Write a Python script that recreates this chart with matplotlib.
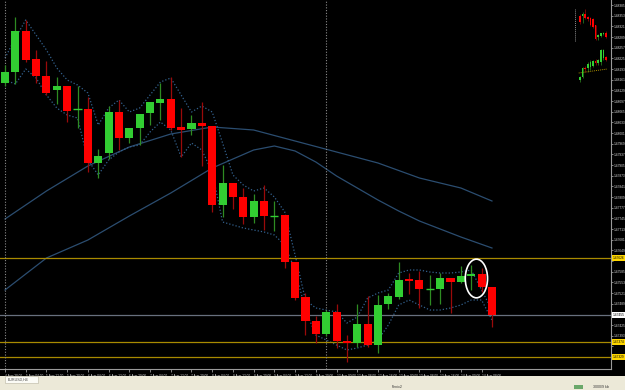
import matplotlib
matplotlib.use("Agg")
import matplotlib.pyplot as plt
import matplotlib.transforms as mtransforms
from matplotlib.patches import Rectangle, Ellipse
import numpy as np

plt.rcParams["font.family"] = ["Liberation Sans", "DejaVu Sans"]

# EURUSD H4 bars (open / close / high / low)
opens = [1.48151, 1.48184, 1.48307, 1.48223, 1.48172, 1.48130, 1.48142, 1.48073, 1.48073, 1.47911,
         1.47941, 1.48064, 1.47986, 1.48016, 1.48061, 1.48091, 1.48103, 1.48019, 1.48013, 1.48031,
         1.48022, 1.47785, 1.47851, 1.47809, 1.47749, 1.47797, 1.47752, 1.47755, 1.47614, 1.47509,
         1.47437, 1.47398, 1.47464, 1.47377, 1.47371, 1.47428, 1.47365, 1.47488, 1.47509, 1.47563,
         1.47560, 1.47533, 1.47533, 1.47566, 1.47554, 1.47572, 1.47578, 1.47539]
closes = [1.48184, 1.48307, 1.48220, 1.48172, 1.48121, 1.48142, 1.48067, 1.48074, 1.47911, 1.47932,
          1.48064, 1.47986, 1.48016, 1.48058, 1.48094, 1.48103, 1.48016, 1.48010, 1.48031, 1.48022,
          1.47785, 1.47851, 1.47809, 1.47749, 1.47797, 1.47752, 1.47753, 1.47614, 1.47506, 1.47437,
          1.47398, 1.47464, 1.47377, 1.47371, 1.47428, 1.47365, 1.47485, 1.47512, 1.47560, 1.47557,
          1.47533, 1.47534, 1.47566, 1.47554, 1.47572, 1.47578, 1.47539, 1.47455]
highs = [1.48205, 1.48349, 1.48340, 1.48250, 1.48217, 1.48169, 1.48142, 1.48142, 1.48109, 1.47953,
         1.48082, 1.48100, 1.48016, 1.48058, 1.48094, 1.48151, 1.48169, 1.48076, 1.48055, 1.48094,
         1.48022, 1.47905, 1.47851, 1.47836, 1.47818, 1.47845, 1.47797, 1.47755, 1.47614, 1.47521,
         1.47452, 1.47470, 1.47488, 1.47395, 1.47488, 1.47512, 1.47515, 1.47521, 1.47614, 1.47581,
         1.47587, 1.47575, 1.47581, 1.47566, 1.47602, 1.47605, 1.47596, 1.47539]
lows = [1.48142, 1.48148, 1.48214, 1.48151, 1.48115, 1.48088, 1.48034, 1.48016, 1.47884, 1.47866,
        1.47923, 1.47950, 1.47971, 1.47965, 1.48025, 1.48040, 1.48010, 1.47929, 1.47995, 1.47902,
        1.47764, 1.47749, 1.47773, 1.47728, 1.47731, 1.47710, 1.47707, 1.47596, 1.47500, 1.47395,
        1.47371, 1.47392, 1.47356, 1.47314, 1.47359, 1.47359, 1.47341, 1.47473, 1.47503, 1.47518,
        1.47476, 1.47485, 1.47488, 1.47461, 1.47551, 1.47530, 1.47524, 1.47419]

# dotted envelope lines
env_upper = [1.48226, 1.48286, 1.48340, 1.48295, 1.48250, 1.48196, 1.48160, 1.48145, 1.48121, 1.48025,
             1.48076, 1.48100, 1.48064, 1.48076, 1.48115, 1.48154, 1.48166, 1.48115, 1.48064, 1.48082,
             1.48064, 1.47971, 1.47875, 1.47845, 1.47827, 1.47836, 1.47809, 1.47764, 1.47635, 1.47500,
             1.47476, 1.47470, 1.47464, 1.47431, 1.47449, 1.47506, 1.47521, 1.47530, 1.47581, 1.47590,
             1.47590, 1.47584, 1.47581, 1.47581, 1.47584, 1.47590, 1.47530, 1.47470]
env_lower = [1.48160, 1.48148, 1.48193, 1.48166, 1.48115, 1.48076, 1.48055, 1.48046, 1.47920, 1.47875,
             1.47920, 1.47944, 1.47959, 1.47965, 1.48004, 1.48034, 1.48010, 1.47929, 1.47971, 1.47950,
             1.47884, 1.47734, 1.47725, 1.47716, 1.47710, 1.47704, 1.47695, 1.47665, 1.47590, 1.47470,
             1.47395, 1.47380, 1.47365, 1.47350, 1.47356, 1.47365, 1.47380, 1.47425, 1.47485, 1.47500,
             1.47485, 1.47470, 1.47470, 1.47476, 1.47485, 1.47500, 1.47500, 1.47440]

# moving averages (read at some bars)
ma_a_idx = [0, 4, 8, 12, 16, 20, 24, 28, 32, 36, 40, 44, 47]
ma_a = [1.47743, 1.47827, 1.47902, 1.47959, 1.47998, 1.48019, 1.48010, 1.47977, 1.47944, 1.47911,
        1.47866, 1.47836, 1.47797]
ma_b_idx = [0, 4, 8, 12, 16, 20, 24, 26, 28, 30, 32, 34, 36, 38, 40, 42, 44, 47]
ma_b = [1.47530, 1.47626, 1.47680, 1.47752, 1.47821, 1.47896, 1.47950, 1.47962, 1.47947, 1.47914,
        1.47872, 1.47836, 1.47800, 1.47767, 1.47737, 1.47713, 1.47689, 1.47656]

gold_levels = [1.47626, 1.47374, 1.47329]
separators = [0, 31]

xtick_idx = list(range(0, 48, 2))
xtick_labels = ["4 Aug 20:00", "5 Aug 04:00", "5 Aug 12:00", "5 Aug 20:00", "6 Aug 04:00",
                "6 Aug 12:00", "6 Aug 20:00", "7 Aug 04:00", "7 Aug 12:00", "7 Aug 20:00",
                "8 Aug 04:00", "8 Aug 12:00", "8 Aug 20:00", "9 Aug 04:00", "9 Aug 12:00",
                "9 Aug 20:00", "12 Aug 00:00", "12 Aug 08:00", "12 Aug 16:00", "13 Aug 00:00",
                "13 Aug 08:00", "13 Aug 16:00", "14 Aug 00:00", "14 Aug 08:00"]

# small chart in the top right corner
mini_up_o = [84, 84, 86, 83, 82, 81, 75, 63, 64, 66, 67]
mini_up_c = [78, 86, 82, 81, 75, 73, 61, 65, 67, 67, 63]
mini_up_h = [86, 88, 91, 84, 83, 82, 75, 66, 67, 68, 69]
mini_up_l = [76, 77, 81, 79, 74, 72, 60, 60, 63, 65, 62]
mini_lo_o = [20, 23, 32, 32, 33, 34, 39, 37, 38, 42, 43]
mini_lo_c = [23, 32, 31, 36, 38, 39, 37, 40, 50, 50, 40]
mini_lo_h = [24, 33, 34, 38, 40, 40, 41, 41, 51, 51, 44]
mini_lo_l = [18, 22, 28, 28, 30, 33, 35, 35, 35, 40, 39]
mini_level_x = [-0.5, 10.5]
mini_level = [27, 31]

GREEN, RED = "#32cd32", "#ff0000"
GREEN_W, RED_W = "#2e8b22", "#9a0a0a"
TXT = "#d8d8d8"
FS = 2.3


def candles(a, o, c, h, l, width, lw):
    for i in range(len(o)):
        up = c[i] >= o[i]
        a.vlines(i, l[i], h[i], color=GREEN_W if up else RED_W, lw=lw, zorder=2)
        lo, hi = min(o[i], c[i]), max(o[i], c[i])
        if hi - lo < (a.get_ylim()[1] - a.get_ylim()[0]) * 0.004:
            a.hlines(o[i], i - width / 2, i + width / 2, color=GREEN if up else RED, lw=1.0, zorder=3)
        else:
            a.bar(i, hi - lo, bottom=lo, width=width, color=GREEN if up else RED, lw=0, zorder=3)


fig = plt.figure(figsize=(6.25, 3.9), dpi=100, facecolor="black")
ax = fig.add_axes([0, 21 / 390, 611 / 625, 369 / 390], facecolor="black")
ax.set_xlim(-0.483, 58.49)
ax.set_ylim(1.47293, 1.48400)

ax.plot(ma_a_idx, ma_a, color="#2b4d70", lw=0.9, zorder=1)
ax.plot(ma_b_idx, ma_b, color="#2b4d70", lw=0.9, zorder=1)
idx = np.arange(len(opens))
ax.plot(idx, env_upper, color="#33618e", lw=0.9, ls=(0, (1, 1.6)), zorder=1)
ax.plot(idx, env_lower, color="#33618e", lw=0.9, ls=(0, (1, 1.6)), zorder=1)

for lv in gold_levels:
    ax.axhline(lv, color="#a88a00", lw=0.9, zorder=1)
ax.axhline(closes[-1], color="#68707e", lw=0.9, zorder=1)
for s in separators:
    ax.axvline(s, color="#8a8a8a", lw=0.8, ls=(0, (1, 1.5)), zorder=1)

candles(ax, opens, closes, highs, lows, 0.78, 0.9)

# circle around the last two finished bars
ey = (max(highs[45:47]) + min(lows[45:47])) / 2
eh = max(highs[45:47]) - min(lows[45:47]) + 0.00035
ax.add_patch(Ellipse((45.5, ey), 2.15, eh, fill=False, edgecolor="white", lw=1.2, zorder=5))

# axes look like the terminal
for side in ["top", "left"]:
    ax.spines[side].set_visible(False)
for side in ["right", "bottom"]:
    ax.spines[side].set_color("#9a9a9a")
    ax.spines[side].set_linewidth(0.8)

marked = gold_levels + [closes[-1]]
ax.yaxis.tick_right()
yt = np.arange(1.48385, 1.4730, -0.00032)
ax.set_yticks(yt)
ax.set_yticklabels(["" if min(abs(v - m) for m in marked) < 0.00018 else f"{v:.5f}" for v in yt])
ax.tick_params(axis="y", colors="#9a9a9a", labelcolor=TXT, labelsize=FS, length=1.5, width=0.6, pad=0.5)
ax.set_xticks(xtick_idx)
ax.set_xticklabels(xtick_labels, ha="left")
ax.tick_params(axis="x", colors="#9a9a9a", labelcolor=TXT, labelsize=FS, length=2, width=0.6, pad=1.5)

blend = mtransforms.blended_transform_factory(ax.transAxes, ax.transData)
for lv in gold_levels:
    ax.text(1.003, lv, f"{lv:.5f}", transform=blend, fontsize=FS, color="black", va="center", ha="left",
            clip_on=False, zorder=6, bbox=dict(boxstyle="square,pad=0.25", fc="#ffd700", ec="none"))
ax.text(1.003, closes[-1], f"{closes[-1]:.5f}", transform=blend, fontsize=FS, color="black", va="center",
        ha="left", clip_on=False, zorder=6, bbox=dict(boxstyle="square,pad=0.25", fc="white", ec="none"))

# mini chart
ax_in = fig.add_axes([572 / 625, (390 - 86) / 390, 38 / 625, 82 / 390], facecolor="none")
ax_in.set_xlim(-3.08, 11.54)
ax_in.set_ylim(14, 96)
ax_in.axis("off")
candles(ax_in, mini_up_o, mini_up_c, mini_up_h, mini_up_l, 0.6, 0.5)
candles(ax_in, mini_lo_o, mini_lo_c, mini_lo_h, mini_lo_l, 0.6, 0.5)
ax_in.plot(mini_level_x, mini_level, color="#a88a00", lw=0.7, ls=(0, (1, 1)))
ax_in.vlines(-1.9, 59, 91, color="#8a8a8a", lw=0.7, ls=(0, (1, 1)))

# tab strip and status bar
fig.patches.append(Rectangle((0, 0), 1, 14 / 390, transform=fig.transFigure, fc="#ece9d8", ec="none"))
fig.patches.append(Rectangle((0, 7 / 390), 1, 0.5 / 390, transform=fig.transFigure, fc="#b8b4a0", ec="none"))
fig.patches.append(Rectangle((5 / 625, 7.5 / 390), 33 / 625, 6.5 / 390, transform=fig.transFigure,
                             fc="#fbfbf6", ec="#b8b4a0", lw=0.4))
fig.text(8 / 625, 10.5 / 390, "EURUSD,H4", fontsize=2.6, color="#444444", va="center")
fig.text(392 / 625, 3.5 / 390, "Fenix2", fontsize=2.6, color="#333333", va="center")
fig.text(593 / 625, 3.5 / 390, "3000/9 kb", fontsize=2.6, color="#333333", va="center")
fig.patches.append(Rectangle((574 / 625, 1.5 / 390), 9 / 625, 4 / 390, transform=fig.transFigure,
                             fc="#6aa86a", ec="none"))

fig.savefig("out.png", dpi=100, facecolor="black")
